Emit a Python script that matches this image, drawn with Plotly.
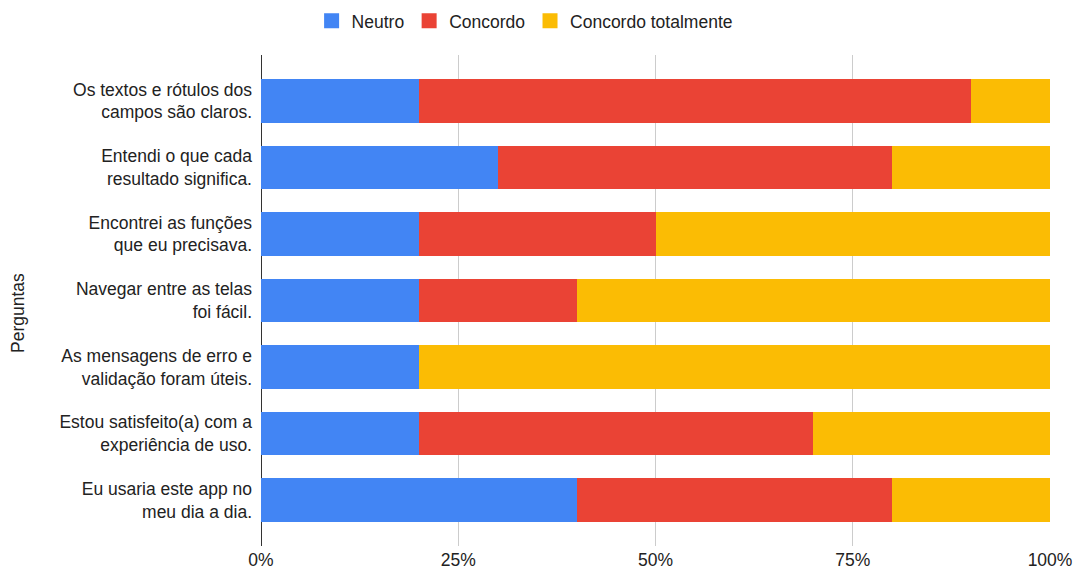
import plotly.graph_objects as go

categories = [
    "Os textos e rótulos dos<br>campos são claros.",
    "Entendi o que cada<br>resultado significa.",
    "Encontrei as funções<br>que eu precisava.",
    "Navegar entre as telas<br>foi fácil.",
    "As mensagens de erro e<br>validação foram úteis.",
    "Estou satisfeito(a) com a<br>experiência de uso.",
    "Eu usaria este app no<br>meu dia a dia.",
]
neutro = [20, 30, 20, 20, 20, 20, 40]
concordo = [70, 50, 30, 20, 0, 50, 40]
concordo_totalmente = [10, 20, 50, 60, 80, 30, 20]
series_names = ["Neutro", "Concordo", "Concordo totalmente"]
colors = ["#4285F4", "#EA4335", "#FBBC04"]
tick_vals = [0, 25, 50, 75, 100]
tick_text = ["0%", "25%", "50%", "75%", "100%"]

FONT = "Liberation Sans, Arial, sans-serif"
FS = 17.5
TXT = "#222222"
fig = go.Figure()
for name, vals, col in zip(series_names, [neutro, concordo, concordo_totalmente], colors):
    fig.add_trace(go.Bar(
        y=categories, x=vals, name=name, orientation="h",
        marker=dict(color=col, line=dict(width=0)),
        showlegend=False, legendgroup=name,
    ))
# legend entries with larger square swatches
for name, col in zip(series_names, colors):
    fig.add_trace(go.Scatter(
        x=[None], y=[None], mode="markers", name=name, legendgroup=name,
        marker=dict(symbol="square", size=15, color=col), showlegend=True,
        hoverinfo="skip",
    ))

L, R, T, B = 261, 25, 55, 25
W, H = 1075, 571
pw = W - L - R
ph = H - T - B

fig.update_layout(
    barmode="stack",
    bargap=0.35,
    width=W, height=H,
    margin=dict(l=L, r=R, t=T, b=B, autoexpand=False),
    plot_bgcolor="white", paper_bgcolor="white",
    font=dict(family=FONT, size=FS, color=TXT),
    legend=dict(orientation="h", traceorder="normal", xref="container", x=0.488, xanchor="center",
                yref="container", y=0.995, yanchor="top", itemsizing="trace",
                font=dict(size=FS, color=TXT), itemwidth=30),
    xaxis=dict(range=[0, 100], tickvals=tick_vals, ticktext=tick_text,
               showgrid=True, gridcolor="#cccccc", gridwidth=1,
               zeroline=True, zerolinecolor="#333333", zerolinewidth=1,
               ticks="", ticklabelstandoff=1, automargin=False),
    yaxis=dict(type="category", range=[6.69, -0.69], showgrid=False,
               zeroline=False, ticks="", ticklabelstandoff=8, automargin=False),
    annotations=[dict(text="Perguntas", textangle=-90, xref="paper", yref="paper",
                      x=(18 - L) / pw, y=1 - (313 - T) / ph, xanchor="center", yanchor="middle",
                      showarrow=False, font=dict(size=FS, color=TXT))],
)

fig.write_html("out.html", config={"displayModeBar": False},
               post_script="document.body.style.margin='0';")
